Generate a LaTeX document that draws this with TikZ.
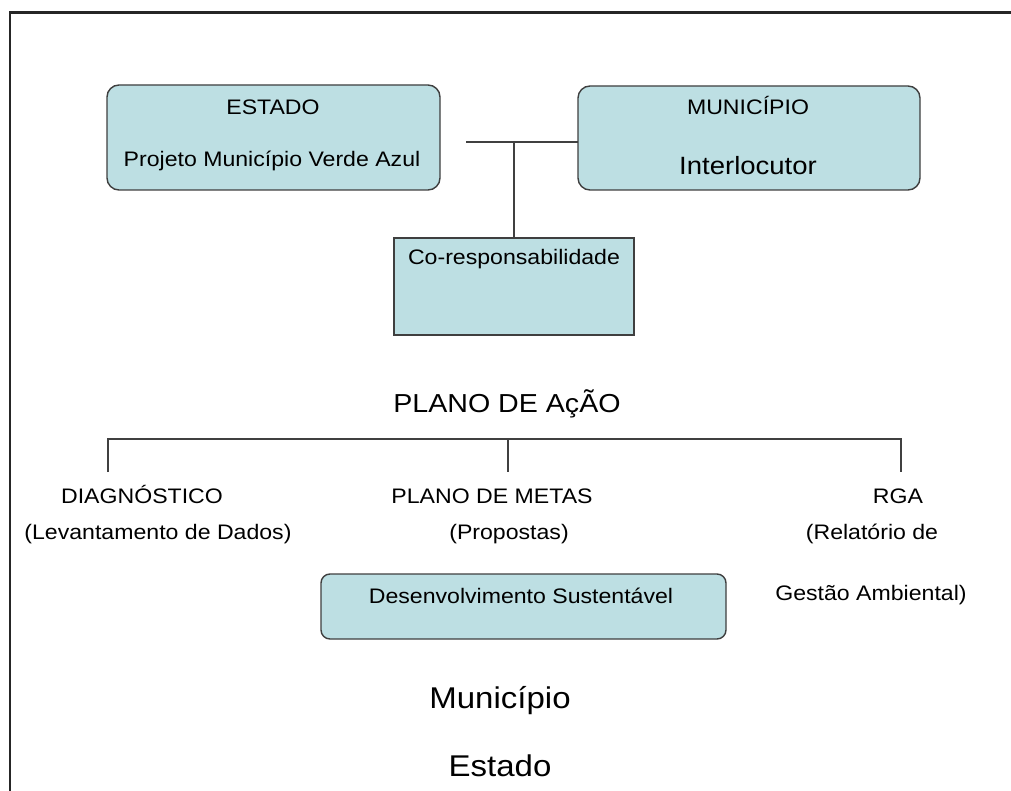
\documentclass[tikz,border=0pt]{standalone}
\usepackage{fontspec}
\setmainfont{Liberation Sans}[FakeStretch=1.1]
\definecolor{boxfill}{HTML}{BDDFE3}
\definecolor{boxline}{HTML}{3F3F3F}
\begin{document}
\begin{tikzpicture}[x=1pt,y=-1pt,
  rbox/.style={draw=boxline,line width=1.4pt,fill=boxfill,rounded corners=12pt},
  sbox/.style={draw=boxline,line width=1.4pt,fill=boxfill},
  lbl/.style={anchor=base,inner sep=0pt,font=\fontsize{21}{25}\selectfont},
  conn/.style={draw=black!75,line width=1.3pt}]
\useasboundingbox (0,0) rectangle (1011,791);
\fill[white] (0,0) rectangle (1011,791);
% frame
\draw[line width=2.2pt,black!85] (10,791) -- (10,12.5) -- (1011,12.5);
% top boxes
\draw[rbox] (107,85) rectangle (440,190);
\node[lbl] (estado) at (273,115) {ESTADO};
\node[lbl] (projeto) at (272,167) {Projeto Município Verde Azul};
\draw[rbox] (578,86) rectangle (920,190);
\node[inner sep=0pt,minimum width=342pt,minimum height=104pt] (munbox) at (749,138) {};
\node[lbl] (mun) at (748,115) {MUNICÍPIO};
\node[lbl,font=\fontsize{25}{30}\selectfont] (inter) at (748,175) {Interlocutor};
\node[sbox,inner sep=0pt,minimum width=240pt,minimum height=97pt] (cores) at (514,286.5) {};
\node[lbl] (corestxt) at (514,265) {Co-responsabilidade};
% connector
\coordinate (hstart) at (466,142);
\coordinate (hjoin) at (514,142);
\draw[conn] (hstart) -- (munbox.west |- hstart);
\draw[conn] (hjoin) -- (cores.north);
% plano de acao
\node[lbl,font=\fontsize{26}{31}\selectfont] (plano) at (507,412) {PLANO DE AçÃO};
\coordinate (tl) at (108,439);
\coordinate (tm) at (508,439);
\coordinate (tr) at (901,439);
\coordinate (dl) at (108,472);
\coordinate (dm) at (508,472);
\coordinate (dr) at (901,472);
\draw[conn] (dl) -- (tl) -- (tr) -- (dr);
\draw[conn] (tm) -- (dm);
\node[lbl] (diag) at (142,503) {DIAGNÓSTICO};
\node[lbl] (levant) at (158,539) {(Levantamento de Dados)};
\node[lbl] (metas) at (492,503) {PLANO DE METAS};
\node[lbl] (prop) at (509,539) {(Propostas)};
\node[lbl] (rga) at (898,503) {RGA};
\node[lbl] (relat) at (872,539) {(Relatório de};
\node[lbl] (gestao) at (871,600) {Gestão Ambiental)};
\draw[rbox,rounded corners=9pt] (321,574) rectangle (726,639);
\node[lbl] (desenv) at (521,603) {Desenvolvimento Sustentável};
\node[lbl,font=\fontsize{30}{36}\selectfont] (munic) at (500,708) {Município};
\node[lbl,font=\fontsize{30}{36}\selectfont] (estadob) at (500,776) {Estado};
\end{tikzpicture}
\end{document}
